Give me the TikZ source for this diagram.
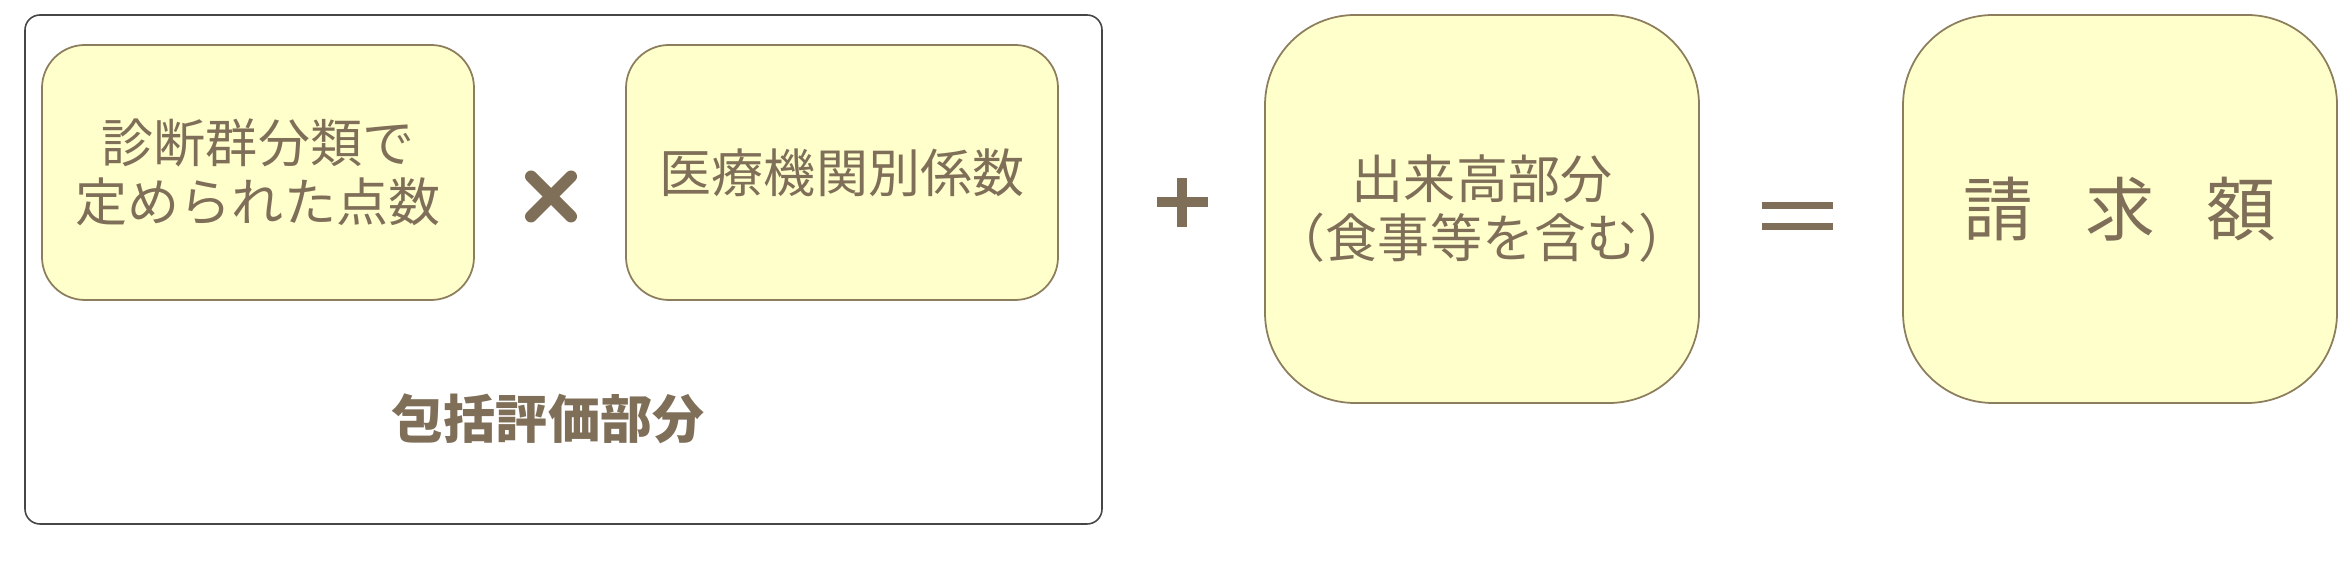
\documentclass[tikz,border=0pt]{standalone}
\usepackage{fontspec}
\setmainfont{Noto Sans CJK JP}
\usepackage{tikz}
\usepackage{xcolor}
\definecolor{txtbrown}{RGB}{128,111,88}
\definecolor{boxfill}{RGB}{255,255,204}
\definecolor{boxedge}{RGB}{140,126,92}
\definecolor{frameedge}{RGB}{70,70,70}
\tikzstyle{block} = [rectangle, draw=boxedge, line width=0.5pt, fill=boxfill, text=txtbrown, align=center, rounded corners=0.43cm, minimum width=4.32cm, minimum height=2.55cm, inner sep=0pt, font=\fontsize{14.8pt}{16.8pt}\selectfont]
\tikzstyle{tallblock} = [block, rounded corners=0.9cm, minimum width=4.34cm, minimum height=3.88cm]
\tikzstyle{frame} = [rectangle, draw=frameedge, line width=0.45pt, fill=white, rounded corners=0.15cm, minimum width=10.77cm, minimum height=5.09cm, inner sep=0pt]
\tikzstyle{title} = [text=txtbrown, font=\fontsize{14.8pt}{17pt}\selectfont\bfseries]
\tikzstyle{opline} = [draw=txtbrown, line width=0.1cm]

\begin{document}
\begin{tikzpicture}
  	\useasboundingbox (0,0) rectangle (23.39,-5.64);
  	%% inclusive part frame
  	\node[frame] (incl) at (5.635,-2.695) {};
  	\node[title] (inclname) at (5.48,-4.19) {包括評価部分};
  	%% DPC points
  	\node[block] (DPC) at (2.58,-1.725) {診断群分類で\\定められた点数};
  	%% hospital coefficient
  	\node[block, right of=DPC, node distance=5.84cm] (coef) {医療機関別係数};
  	%% fee for service part
  	\node[tallblock] (fee) at (14.82,-2.09) {出来高部分\\（食事等を含む）};
  	%% billed amount
  	\node[tallblock, right of=fee, node distance=6.38cm, font=\fontsize{19.8pt}{22pt}\selectfont] (bill) {請\hspace{0.52cm}求\hspace{0.52cm}額};
  	%% operators
  	\coordinate (times) at (5.51,-1.965);
  	\coordinate (plus) at (11.82,-2.025);
  	\coordinate (eq) at (17.975,-2.16);
  	\path[opline, line width=0.12cm, line cap=round] ([shift={(-0.2,0.2)}]times) -- ([shift={(0.2,-0.2)}]times);
  	\path[opline, line width=0.12cm, line cap=round] ([shift={(-0.2,-0.2)}]times) -- ([shift={(0.2,0.2)}]times);
  	\path[opline] ([xshift=-0.255cm]plus) -- ([xshift=0.255cm]plus);
  	\path[opline] ([yshift=-0.245cm]plus) -- ([yshift=0.245cm]plus);
  	\path[opline, line width=0.075cm] ([shift={(-0.355,0.107)}]eq) -- ([shift={(0.355,0.107)}]eq);
  	\path[opline, line width=0.075cm] ([shift={(-0.355,-0.107)}]eq) -- ([shift={(0.355,-0.107)}]eq);
\end{tikzpicture}
\end{document}
